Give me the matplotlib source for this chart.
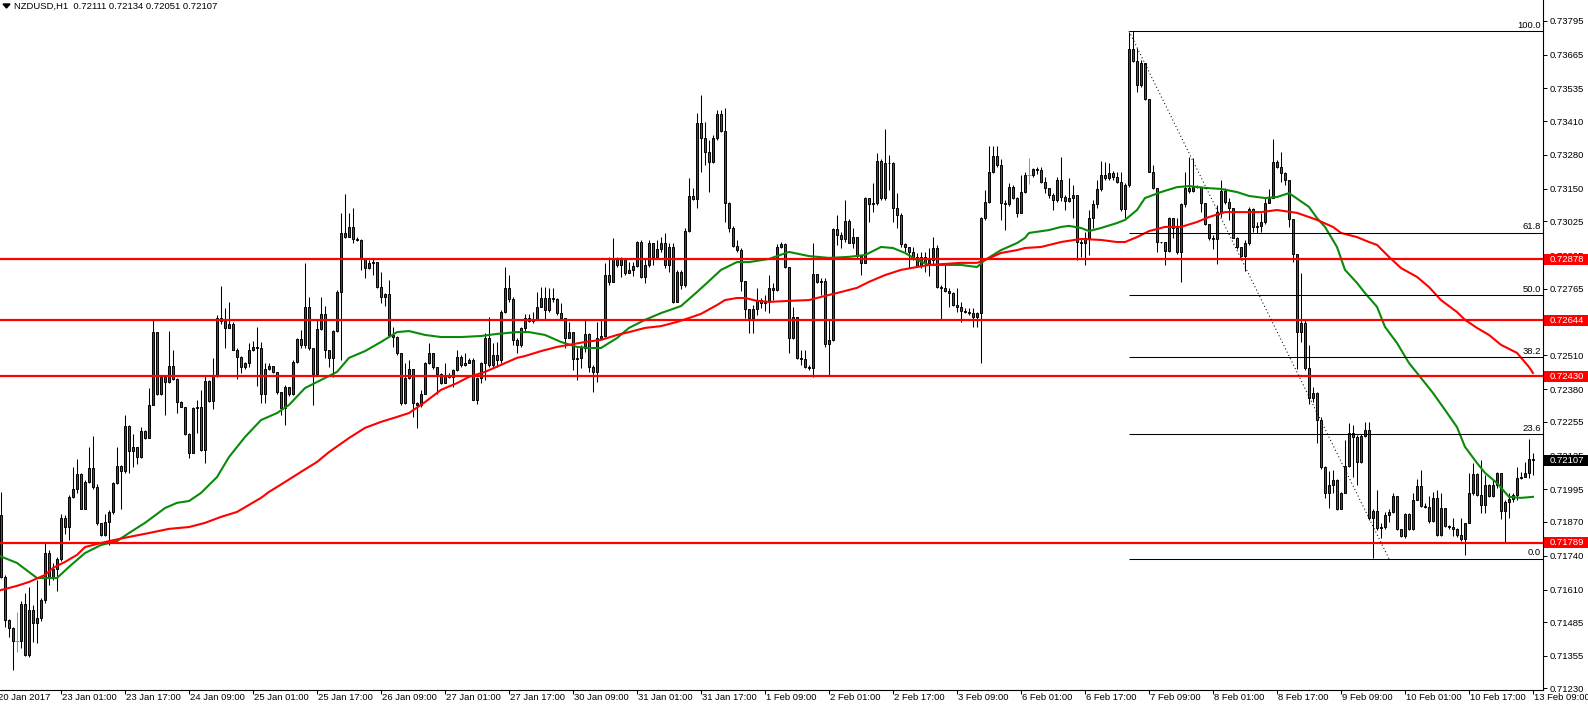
import numpy as np
import matplotlib
matplotlib.use("Agg")
import matplotlib.pyplot as plt
from matplotlib.patches import Polygon, Rectangle
from matplotlib.transforms import blended_transform_factory

plt.rcParams['font.family'] = ['Liberation Sans', 'DejaVu Sans']

# NZDUSD H1 candles, prices in points (1e-5). open of each bar = previous close
open_first = 71890
close_pts = [
    71896, 71659, 71492, 71464, 71413, 71413, 71556, 71358, 71533, 71482,
    71499, 71569, 71752, 71653, 71687, 71727, 71883, 71849, 71964, 71998,
    72053, 71921, 72024, 72075, 72005, 71864, 71819, 71868, 71909, 72021,
    72084, 72066, 72239, 72143, 72156, 72120, 72219, 72194, 72317, 72598,
    72361, 72425, 72406, 72468, 72418, 72331, 72312, 72206, 72135, 72306,
    72310, 72146, 72411, 72335, 72436, 72654, 72641, 72613, 72632, 72532,
    72504, 72463, 72479, 72532, 72543, 72536, 72361, 72459, 72468, 72447,
    72370, 72308, 72389, 72361, 72485, 72571, 72549, 72696, 72536, 72438,
    72609, 72668, 72532, 72500, 72604, 72754, 72978, 72965, 73001, 72955,
    72951, 72882, 72844, 72865, 72869, 72771, 72735, 72745, 72588, 72581,
    72520, 72325, 72421, 72456, 72328, 72319, 72363, 72479, 72517, 72463,
    72438, 72404, 72434, 72427, 72453, 72502, 72472, 72481, 72491, 72340,
    72421, 72481, 72575, 72472, 72511, 72491, 72677, 72767, 72725, 72568,
    72549, 72614, 72652, 72642, 72646, 72697, 72729, 72684, 72729, 72726,
    72671, 72652, 72578, 72601, 72496, 72501, 72537, 72590, 72466, 72444,
    72578, 72585, 72818, 72793, 72882, 72857, 72880, 72825, 72838, 72854,
    72947, 72812, 72857, 72940, 72889, 72918, 72940, 72857, 72927, 72716,
    72831, 72780, 72987, 73123, 73110, 73401, 73346, 73292, 73251, 73344,
    73436, 73372, 73094, 72998, 72931, 72914, 72795, 72688, 72652, 72688,
    72722, 72710, 72716, 72767, 72761, 72925, 72938, 72848, 72575, 72656,
    72498, 72494, 72466, 72460, 72822, 72793, 72797, 72553, 72569, 72994,
    72972, 72955, 73027, 72943, 72966, 72891, 72866, 73113, 73091, 73094,
    73258, 73113, 73250, 73248, 73075, 73049, 72938, 72925, 72908, 72889,
    72853, 72889, 72863, 72876, 72921, 72774, 72767, 72758, 72751, 72703,
    72697, 72681, 72678, 72674, 72656, 72674, 73036, 73100, 73215, 73276,
    73241, 73094, 73091, 73155, 73113, 73055, 73139, 73203, 73203, 73226,
    73223, 73175, 73152, 73126, 73107, 73184, 73119, 73103, 73116, 73126,
    72944, 72940, 72959, 73036, 73090, 73149, 73203, 73190, 73209, 73196,
    73175, 73072, 73164, 73687, 73641, 73548, 73632, 73495, 73215, 73152,
    72946, 72944, 72911, 73036, 72998, 72908, 73090, 73152, 73141, 73158,
    73155, 73094, 73013, 72959, 72955, 73062, 73141, 73098, 73075, 72962,
    72924, 72893, 72940, 73072, 73004, 73008, 73023, 73094, 73113, 73251,
    73235, 73212, 73183, 73032, 72899, 72601, 72635, 72460, 72345, 72366,
    72261, 72079, 71980, 72012, 72031, 71918, 71982, 72085, 72213, 72195,
    72101, 72200, 72223, 71883, 71913, 71845, 71849, 71896, 71909, 71969,
    71841, 71816, 71900, 71841, 71954, 72008, 71931, 71928, 71875, 71960,
    71820, 71922, 71854, 71849, 71842, 71820, 71803, 71864, 71980, 72054,
    71973, 71935, 72012, 71969, 72012, 72059, 71913, 71948, 71956, 71973,
    72037, 72044, 72059, 72111, 72107,
]
high_pts = [
    71910, 71986, 71665, 71495, 71467, 71524, 71567, 71595, 71620, 71550,
    71646, 71576, 71793, 71761, 71710, 71736, 71902, 71896, 71973, 72079,
    72110, 72058, 72030, 72158, 72199, 72015, 71866, 71902, 71915, 72024,
    72158, 72088, 72280, 72242, 72207, 72158, 72235, 72222, 72386, 72645,
    72591, 72427, 72427, 72604, 72530, 72421, 72335, 72312, 72210, 72310,
    72338, 72376, 72434, 72415, 72498, 72664, 72776, 72690, 72713, 72639,
    72536, 72507, 72485, 72556, 72564, 72617, 72562, 72479, 72481, 72468,
    72447, 72370, 72395, 72389, 72491, 72575, 72607, 72863, 72735, 72536,
    72645, 72735, 72699, 72532, 72607, 72760, 73057, 73129, 73055, 73074,
    72963, 72955, 72882, 72876, 72878, 72869, 72831, 72750, 72799, 72620,
    72584, 72520, 72479, 72491, 72456, 72331, 72376, 72485, 72558, 72517,
    72463, 72440, 72479, 72440, 72459, 72530, 72511, 72517, 72498, 72498,
    72427, 72485, 72594, 72658, 72556, 72562, 72684, 72848, 72818, 72735,
    72575, 72620, 72667, 72667, 72678, 72754, 72774, 72774, 72767, 72767,
    72729, 72710, 72646, 72639, 72601, 72537, 72549, 72646, 72594, 72473,
    72639, 72646, 72863, 72889, 72962, 72889, 72889, 72876, 72870, 72870,
    72949, 72953, 72882, 72953, 72934, 72953, 72966, 72978, 72940, 72940,
    72838, 72838, 72998, 73190, 73151, 73440, 73510, 73408, 73337, 73356,
    73452, 73452, 73459, 73100, 73008, 72953, 72921, 72795, 72688, 72703,
    72767, 72729, 72740, 72818, 72786, 72938, 72946, 72943, 72850, 72697,
    72656, 72530, 72530, 72473, 72940, 72818, 72806, 72806, 72646, 72998,
    73049, 72985, 73107, 73032, 72998, 72966, 72895, 73119, 73113, 73171,
    73286, 73263, 73378, 73280, 73254, 73132, 73055, 72943, 72927, 72927,
    72902, 72908, 72908, 72921, 72963, 72934, 72780, 72857, 72767, 72754,
    72767, 72716, 72690, 72690, 72690, 72678, 73043, 73145, 73314, 73314,
    73314, 73263, 73107, 73171, 73164, 73119, 73203, 73215, 73267, 73231,
    73235, 73235, 73196, 73152, 73132, 73196, 73273, 73126, 73192, 73164,
    73126, 72959, 72985, 73068, 73107, 73184, 73256, 73251, 73247, 73218,
    73215, 73215, 73171, 73753, 73755, 73689, 73645, 73632, 73495, 73241,
    73152, 72946, 72946, 73043, 73036, 73036, 73094, 73215, 73273, 73267,
    73164, 73162, 73094, 73013, 72972, 73087, 73184, 73152, 73116, 73075,
    72966, 72927, 72953, 73081, 73075, 73023, 73055, 73113, 73149, 73341,
    73260, 73292, 73215, 73183, 73032, 72899, 72825, 72646, 72550, 72387,
    72370, 72274, 72085, 72067, 72069, 72033, 71986, 72184, 72248, 72242,
    72204, 72208, 72255, 72255, 71918, 71992, 71864, 71909, 71918, 71980,
    71969, 71841, 71905, 71905, 71980, 72033, 72069, 71941, 71969, 71986,
    71992, 71980, 71922, 71858, 71883, 71845, 71883, 71867, 72059, 72095,
    72056, 72108, 72050, 72015, 72031, 72063, 72059, 71954, 71980, 71982,
    72082, 72063, 72101, 72187, 72134,
]
low_pts = [
    71880, 71653, 71467, 71428, 71300, 71371, 71384, 71354, 71352, 71409,
    71403, 71490, 71559, 71627, 71646, 71605, 71720, 71823, 71800, 71960,
    71979, 71918, 71918, 72018, 71998, 71857, 71815, 71815, 71781, 71902,
    72015, 71921, 72058, 72058, 72079, 72094, 72114, 72190, 72194, 72331,
    72357, 72357, 72280, 72402, 72415, 72289, 72310, 72203, 72114, 72133,
    72210, 72143, 72097, 72331, 72303, 72427, 72630, 72536, 72613, 72530,
    72418, 72443, 72459, 72466, 72527, 72393, 72325, 72325, 72453, 72440,
    72363, 72280, 72242, 72353, 72357, 72481, 72536, 72536, 72532, 72319,
    72438, 72607, 72498, 72466, 72427, 72600, 72491, 72959, 72963, 72940,
    72950, 72837, 72805, 72840, 72818, 72767, 72709, 72699, 72581, 72543,
    72511, 72319, 72322, 72417, 72274, 72229, 72312, 72361, 72476, 72459,
    72363, 72399, 72402, 72421, 72389, 72450, 72466, 72468, 72479, 72338,
    72322, 72402, 72415, 72466, 72466, 72466, 72479, 72671, 72716, 72549,
    72517, 72543, 72601, 72637, 72633, 72665, 72697, 72646, 72678, 72716,
    72665, 72646, 72537, 72575, 72453, 72415, 72460, 72524, 72444, 72370,
    72406, 72575, 72581, 72780, 72793, 72850, 72812, 72818, 72825, 72816,
    72850, 72806, 72786, 72850, 72857, 72882, 72908, 72844, 72831, 72710,
    72716, 72765, 72774, 72985, 73107, 73075, 73215, 73241, 73136, 73247,
    73337, 73369, 73023, 72985, 72927, 72908, 72757, 72652, 72594, 72594,
    72665, 72690, 72680, 72671, 72722, 72758, 72921, 72844, 72520, 72571,
    72494, 72473, 72460, 72453, 72428, 72786, 72742, 72543, 72434, 72566,
    72934, 72921, 72946, 72940, 72921, 72882, 72818, 72863, 73023, 73062,
    73087, 73107, 73107, 73145, 73023, 72998, 72927, 72908, 72844, 72876,
    72850, 72844, 72831, 72815, 72857, 72767, 72646, 72754, 72697, 72699,
    72678, 72639, 72671, 72665, 72617, 72620, 72479, 73030, 73094, 73209,
    73235, 73030, 72991, 73084, 73109, 73043, 73062, 73132, 73167, 73196,
    73205, 73171, 73132, 73116, 73068, 73100, 73103, 73068, 73100, 73039,
    72876, 72889, 72857, 72895, 72998, 73075, 73141, 73184, 73184, 73184,
    73171, 73064, 73036, 73158, 73638, 73523, 73542, 73491, 73213, 73149,
    72908, 72940, 72857, 72908, 72959, 72898, 72793, 73081, 73132, 73139,
    73152, 73062, 73011, 72953, 72918, 72860, 73043, 73090, 73030, 72959,
    72918, 72889, 72834, 72934, 72982, 72979, 72985, 73013, 73094, 73116,
    73228, 73177, 73164, 73004, 72870, 72456, 72562, 72453, 72323, 72332,
    72174, 72072, 71960, 71922, 71980, 71915, 71918, 71980, 72082, 72044,
    72012, 72097, 72195, 71877, 71730, 71839, 71807, 71842, 71871, 71905,
    71839, 71810, 71807, 71839, 71839, 71954, 71926, 71922, 71864, 71871,
    71816, 71816, 71849, 71842, 71816, 71813, 71798, 71743, 71864, 71973,
    71969, 71903, 71903, 71967, 71967, 71999, 71880, 71790, 71883, 71948,
    71954, 72033, 72041, 72037, 72051,
]

# moving averages (bar index, points)
ma_fast_bars = [
    0, 5, 10, 13, 15, 18, 22, 26, 30, 33, 37, 42, 45, 48, 51, 55, 58, 62, 66, 70,
    73, 77, 81, 85, 88, 92, 96, 100, 103, 107, 111, 116, 121, 125, 130, 133, 137, 141, 145, 148,
    151, 155, 158, 162, 166, 171, 175, 178, 181, 185, 188, 193, 198, 203, 208, 213, 217, 221, 224, 227,
    230, 233, 237, 241, 245, 247, 251, 255, 257, 258, 263, 266, 268, 271, 273, 276, 280, 282, 285, 287,
    291, 295, 298, 302, 306, 310, 313, 317, 320, 323, 328, 330, 332, 335, 337, 340, 342, 345, 347, 350,
    353, 355, 359, 362, 365, 367, 370, 372, 375, 378, 381, 384,
]
ma_fast_pts = [
    71743, 71712, 71654, 71654, 71654, 71697, 71750, 71781, 71796, 71827,
    71866, 71923, 71943, 71950, 71981, 72042, 72119, 72196, 72261, 72288,
    72319, 72384, 72415, 72446, 72500, 72526, 72561, 72599, 72603, 72588,
    72580, 72580, 72584, 72592, 72599, 72599, 72588, 72561, 72542, 72538,
    72538, 72576, 72615, 72646, 72672, 72699, 72753, 72795, 72838, 72868,
    72868, 72880, 72907, 72891, 72884, 72888, 72895, 72926, 72922, 72903,
    72876, 72857, 72857, 72857, 72849, 72876, 72914, 72941, 72961, 72980,
    72991, 73003, 73007, 72999, 72987, 72999, 73018, 73030, 73068, 73114,
    73137, 73156, 73160, 73153, 73149, 73137, 73122, 73114, 73118, 73133,
    73080, 73037, 73003, 72926, 72838, 72788, 72749, 72696, 72619, 72557,
    72480, 72442, 72365, 72300, 72234, 72158, 72096, 72058, 72019, 71966,
    71962, 71966,
]
ma_slow_bars = [
    0, 5, 8, 12, 14, 17, 20, 22, 25, 28, 33, 38, 43, 48, 52, 56, 60, 63, 66, 68,
    72, 76, 80, 83, 88, 92, 96, 100, 103, 107, 111, 115, 118, 122, 126, 130, 132, 136, 140, 143,
    147, 151, 155, 158, 162, 166, 170, 173, 176, 180, 182, 185, 187, 190, 193, 198, 203, 207, 211, 215,
    218, 222, 226, 230, 233, 237, 241, 245, 247, 251, 255, 257, 261, 266, 271, 276, 280, 282, 285, 288,
    292, 296, 300, 303, 307, 311, 316, 320, 325, 328, 330, 334, 336, 340, 343, 345, 348, 351, 355, 358,
    361, 365, 367, 370, 373, 376, 380, 383, 384,
]
ma_slow_pts = [
    71604, 71624, 71639, 71666, 71693, 71716, 71743, 71773, 71785, 71796,
    71812, 71827, 71843, 71850, 71866, 71889, 71908, 71935, 71962, 71985,
    72023, 72062, 72100, 72138, 72192, 72231, 72254, 72273, 72288, 72330,
    72377, 72403, 72427, 72446, 72473, 72500, 72507, 72526, 72542, 72550,
    72561, 72569, 72588, 72599, 72615, 72622, 72638, 72653, 72669, 72703,
    72722, 72730, 72730, 72719, 72715, 72719, 72722, 72738, 72753, 72769,
    72792, 72818, 72838, 72849, 72857, 72861, 72865, 72865, 72876, 72903,
    72914, 72922, 72926, 72945, 72957, 72953, 72945, 72945, 72964, 72987,
    73003, 73003, 73022, 73041, 73060, 73060, 73060, 73068, 73057, 73041,
    73030, 73003, 72980, 72964, 72945, 72934, 72888, 72845, 72811, 72772,
    72722, 72676, 72646, 72615, 72588, 72550, 72519, 72465, 72442,
]

levels = [0.72878, 0.72644, 0.72430, 0.71789]
last_price = 0.72107
fib_high, fib_low = 0.73755, 0.71728
fib_start, fib_end = 283, 348
fib_ratios = [0.0, 23.6, 38.2, 50.0, 61.8, 100.0]

price_ticks = [0.73795, 0.73665, 0.73535, 0.73410, 0.73280, 0.73150, 0.73025,
               0.72895, 0.72765, 0.72640, 0.72510, 0.72380, 0.72255, 0.72125,
               0.71995, 0.71870, 0.71740, 0.71610, 0.71485, 0.71355, 0.71230]
time_labels = ['20 Jan 2017', '23 Jan 01:00', '23 Jan 17:00', '24 Jan 09:00', '25 Jan 01:00',
               '25 Jan 17:00', '26 Jan 09:00', '27 Jan 01:00', '27 Jan 17:00', '30 Jan 09:00',
               '31 Jan 01:00', '31 Jan 17:00', '1 Feb 09:00', '2 Feb 01:00', '2 Feb 17:00',
               '3 Feb 09:00', '6 Feb 01:00', '6 Feb 17:00', '7 Feb 09:00', '8 Feb 01:00',
               '8 Feb 17:00', '9 Feb 09:00', '10 Feb 01:00', '10 Feb 17:00', '13 Feb 09:00']
label_step = 16
title = 'NZDUSD,H1  0.72111 0.72134 0.72051 0.72107'

BULL = '#0b6b14'
BEAR = '#c8184a'
DOJI = '#00ff00'
FS = 6.8

W, H = 1588, 708
PLOT_R, PLOT_B = 1543, 690
Y_TOP, Y_BOT = 0.738749, 0.712239

fig = plt.figure(figsize=(W / 100, H / 100), dpi=100)
fig.patch.set_facecolor('white')
ax = fig.add_axes([0, (H - PLOT_B) / H, PLOT_R / W, PLOT_B / H])
ax.set_xlim(0.75, 386.5)
ax.set_ylim(Y_BOT, Y_TOP)
for s in ['top', 'left']:
    ax.spines[s].set_visible(False)
for s in ['right', 'bottom']:
    ax.spines[s].set_linewidth(0.8)
    ax.spines[s].set_color('black')

# candles
c = np.array(close_pts) / 1e5
o = np.r_[open_first / 1e5, c[:-1]]
hi = np.maximum(np.array(high_pts) / 1e5, np.maximum(o, c))
lo = np.minimum(np.array(low_pts) / 1e5, np.minimum(o, c))
x = np.arange(len(c))
doji = np.isclose(o, c, atol=1e-7)
up = (c > o) & ~doji
dn = (c < o) & ~doji

ax.vlines(x[~doji], lo[~doji], hi[~doji], color='black', lw=0.75, zorder=2)
ax.bar(x[up], (c - o)[up], bottom=o[up], width=0.6, color=BULL,
       edgecolor='black', linewidth=0.7, zorder=3)
ax.bar(x[dn], (o - c)[dn], bottom=c[dn], width=0.6, color=BEAR,
       edgecolor='black', linewidth=0.7, zorder=3)
ax.vlines(x[doji], lo[doji], hi[doji], color=DOJI, lw=0.75, zorder=3)
ax.hlines(c[doji], x[doji] - 0.4, x[doji] + 0.4, color=DOJI, lw=0.75, zorder=3)

# moving averages
ax.plot(ma_fast_bars, np.array(ma_fast_pts) / 1e5, color='#0a8a0a', lw=1.5, zorder=4)
ax.plot(ma_slow_bars, np.array(ma_slow_pts) / 1e5, color='#ff0000', lw=1.5, zorder=4)

# horizontal levels
ax.hlines(levels, 0.75, 386.5, color='#ff0000', lw=1.6, zorder=4)

# fibonacci retracement
fib_vals = [fib_low + r / 100 * (fib_high - fib_low) for r in fib_ratios]
ax.hlines(fib_vals, fib_start, 386.5, color='black', lw=0.75, zorder=4)
ax.plot([fib_start, fib_end], [fib_high, fib_low], color='black', lw=0.75,
        ls=(0, (1, 2.5)), zorder=4)
for r, v in zip(fib_ratios, fib_vals):
    ax.annotate(f'{r:.1f}', xy=(1, v), xycoords=('axes fraction', 'data'),
                xytext=(-2, 1.5), textcoords='offset pixels', ha='right', va='bottom',
                fontsize=FS, zorder=5)

# price axis
ax.yaxis.tick_right()
ax.set_yticks(price_ticks)
ax.set_yticklabels([f'{p:.5f}' for p in price_ticks])
ax.tick_params(axis='y', direction='out', length=3, width=0.7, pad=2,
               labelsize=FS, colors='black')

# time axis
tick_bars = [i * label_step for i in range(len(time_labels))]
ax.set_xticks([b for b in tick_bars if b > 0.75])
ax.set_xticklabels([])
ax.tick_params(axis='x', direction='out', length=3, width=0.7)
for b, lab in zip(tick_bars, time_labels):
    ax.annotate(lab, xy=(b, 0), xycoords=('data', 'axes fraction'),
                xytext=(1, -8), textcoords='offset pixels', ha='left', va='center',
                fontsize=FS, annotation_clip=False)

# price boxes on the right axis
px_price = (Y_TOP - Y_BOT) / PLOT_B
trans = blended_transform_factory(fig.transFigure, ax.transData)
box_h = 11 * px_price
for v, col in [(lv, '#ff0000') for lv in levels] + [(last_price, 'black')]:
    ax.add_patch(Rectangle(((PLOT_R + 1) / W, v - box_h / 2), (W - PLOT_R - 1) / W, box_h,
                           transform=trans, facecolor=col, edgecolor='none',
                           clip_on=False, zorder=6))
    ax.annotate(f'{v:.5f}', xy=(1, v), xycoords=('axes fraction', 'data'),
                xytext=(7, 0), textcoords='offset pixels', ha='left', va='center',
                color='white', fontsize=FS, zorder=7, annotation_clip=False)

# title
fig.patches.append(Polygon([(3 / W, 1 - 4 / H), (10 / W, 1 - 4 / H), (6.5 / W, 1 - 8 / H)],
                           closed=True, transform=fig.transFigure, color='black'))
fig.text(14 / W, 1 - 6 / H, title, ha='left', va='center', fontsize=FS)

fig.savefig('out.png', dpi=100, facecolor='white')
